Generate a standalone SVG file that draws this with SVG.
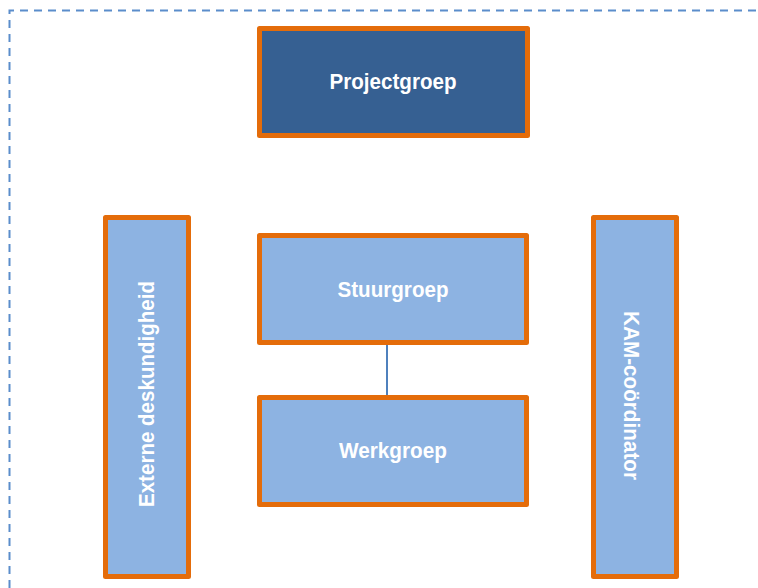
<svg xmlns="http://www.w3.org/2000/svg" width="758" height="588" viewBox="0 0 758 588">
<style>
.box{stroke:#E46C0A;stroke-width:5;stroke-linejoin:round}
.dark{fill:#366092}
.light{fill:#8DB3E2}
.lbl{font-family:"Liberation Sans",Arial,sans-serif;font-weight:bold;font-size:22.5px;fill:#FFFFFF;text-anchor:middle}
.frame{fill:none;stroke:#5B8DCB;stroke-width:2;stroke-dasharray:8 6}
.conn{stroke:#4F81BD;stroke-width:2;fill:none}
</style>
<rect width="758" height="588" fill="#FFFFFF"/>
<path class="frame" d="M9.5,588 V10.5 H758"/>
<g id="connectors">
<line class="conn" x1="387" y1="344" x2="387" y2="397"/>
</g>
<g id="projectgroep">
<rect class="box dark" x="259.5" y="28.5" width="268" height="107"/>
<text class="lbl" x="393" y="89.3" textLength="127" lengthAdjust="spacingAndGlyphs">Projectgroep</text>
</g>
<g id="stuurgroep">
<rect class="box light" x="259.5" y="235.5" width="267" height="107"/>
<text class="lbl" x="393" y="297.3" textLength="111" lengthAdjust="spacingAndGlyphs">Stuurgroep</text>
</g>
<g id="werkgroep">
<rect class="box light" x="259.5" y="397.5" width="267" height="107"/>
<text class="lbl" x="393" y="458.3" textLength="108" lengthAdjust="spacingAndGlyphs">Werkgroep</text>
</g>
<g id="externe-deskundigheid">
<rect class="box light" x="105.5" y="217.5" width="83" height="359"/>
<text class="lbl" transform="translate(154.3,394) rotate(-90)" x="0" y="0" textLength="226" lengthAdjust="spacingAndGlyphs">Externe deskundigheid</text>
</g>
<g id="kam-coordinator">
<rect class="box light" x="593.5" y="217.5" width="83" height="359"/>
<text class="lbl" transform="translate(624,395.5) rotate(90)" x="0" y="0" textLength="169" lengthAdjust="spacingAndGlyphs">KAM-coördinator</text>
</g>
</svg>
